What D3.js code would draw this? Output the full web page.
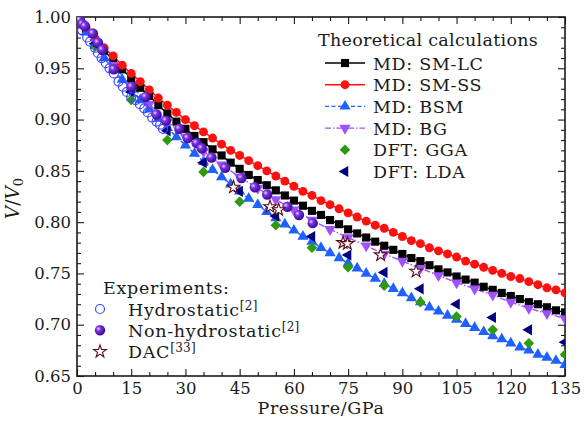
<!DOCTYPE html>
<html>
<head>
<meta charset="utf-8">
<script src="https://cdn.jsdelivr.net/npm/d3@7"></script>
<style>
body { margin: 0; background: #fff; }
svg text { font-family: "DejaVu Serif", serif; fill: #1a1a1a; }
</style>
</head>
<body>
<svg id="chart" width="584" height="421"></svg>
<script>
// pressure grid of the MD runs (GPa)
var mdPressure = [0, 2.5, 5, 7.5, 10, 12.5, 15, 17.5, 20, 22.5, 25, 27.5, 30, 32.5, 35, 37.5, 40, 42.5, 45, 47.5,
    50, 52.5, 55, 57.5, 60, 62.5, 65, 67.5, 70, 72.5, 75, 77.5, 80, 82.5, 85, 87.5, 90, 92.5, 95, 97.5,
    100, 102.5, 105, 107.5, 110, 112.5, 115, 117.5, 120, 122.5, 125, 127.5, 130, 132.5, 135];
var smLC = [1.000, 0.988, 0.977, 0.967, 0.958, 0.949, 0.940, 0.931, 0.923, 0.914, 0.906, 0.898, 0.891, 0.884, 0.878, 0.871, 0.865, 0.858, 0.852, 0.846,
    0.841, 0.836, 0.831, 0.826, 0.821, 0.816, 0.811, 0.807, 0.802, 0.798, 0.793, 0.789, 0.785, 0.781, 0.777, 0.773, 0.769, 0.765, 0.762, 0.758,
    0.754, 0.751, 0.747, 0.744, 0.741, 0.737, 0.734, 0.731, 0.728, 0.725, 0.722, 0.720, 0.717, 0.714, 0.712];
var smSS = [1.000, 0.989, 0.979, 0.970, 0.962, 0.953, 0.945, 0.937, 0.929, 0.921, 0.914, 0.907, 0.900, 0.894, 0.888, 0.882, 0.876, 0.870, 0.865, 0.860,
    0.855, 0.850, 0.845, 0.840, 0.835, 0.830, 0.826, 0.821, 0.817, 0.813, 0.809, 0.805, 0.801, 0.797, 0.794, 0.790, 0.786, 0.782, 0.779, 0.775,
    0.772, 0.769, 0.766, 0.762, 0.759, 0.756, 0.753, 0.750, 0.747, 0.745, 0.742, 0.739, 0.736, 0.734, 0.731];
var bsm = [1.000, 0.985, 0.972, 0.960, 0.949, 0.939, 0.929, 0.919, 0.910, 0.901, 0.892, 0.883, 0.875, 0.867, 0.859, 0.851, 0.844, 0.837, 0.830, 0.823,
    0.817, 0.810, 0.804, 0.798, 0.792, 0.786, 0.781, 0.775, 0.770, 0.765, 0.760, 0.755, 0.750, 0.745, 0.740, 0.735, 0.731, 0.726, 0.722, 0.717,
    0.713, 0.709, 0.705, 0.701, 0.697, 0.693, 0.689, 0.686, 0.682, 0.678, 0.675, 0.671, 0.668, 0.665, 0.661];
var bgPressure = [0, 5, 10, 15, 20, 25, 30, 35, 40, 45, 50, 55, 60, 65, 70, 75, 80, 85, 90, 95, 100, 105, 110, 115, 120, 125, 130, 135];
var bg = [1.000, 0.975, 0.953, 0.933, 0.915, 0.898, 0.883, 0.869, 0.856, 0.844, 0.833, 0.822, 0.812, 0.802,
    0.793, 0.785, 0.777, 0.769, 0.762, 0.755, 0.748, 0.741, 0.735, 0.729, 0.722, 0.716, 0.711, 0.706];
var dftPressure = [5, 15, 25, 35, 45, 55, 65, 75, 85, 95, 105, 115, 125, 135];
var gga = [0.971, 0.919, 0.880, 0.849, 0.820, 0.797, 0.775, 0.756, 0.738, 0.722, 0.708, 0.695, 0.682, 0.671];
var lda = [0.974, 0.927, 0.889, 0.858, 0.830, 0.806, 0.786, 0.768, 0.751, 0.735, 0.720, 0.707, 0.695, 0.683];
// experiments
var hydroP = [0.5, 1.4, 2.8, 3.6, 5.0, 5.8, 6.8, 8.0, 9.0, 10.2, 11.5, 12.7, 13.8, 15.0, 16.2, 17.4, 18.6, 19.6, 20.8, 22.0, 23.0, 23.8];
var hydroV = [0.995, 0.987, 0.980, 0.976, 0.970, 0.965, 0.960, 0.955, 0.950, 0.945, 0.937, 0.932, 0.927, 0.922, 0.919, 0.915, 0.911, 0.907, 0.902, 0.898, 0.895, 0.891];
var nonHydroP = [0.8, 1.5, 2.2, 4.4, 5.8, 7.0, 10.2, 15.1, 19.0, 22.0, 24.6, 28.3, 30.6, 33.1, 34.5, 37.2, 41.0, 45.5, 49.2, 52.6, 58.2, 61.4, 65.2];
var nonHydroV = [0.997, 0.993, 0.991, 0.984, 0.975, 0.968, 0.949, 0.932, 0.922, 0.905, 0.899, 0.891, 0.882, 0.877, 0.872, 0.863, 0.853, 0.843, 0.834, 0.827, 0.815, 0.807, 0.799];
var dacP = [43.3, 53.4, 55.8, 73.6, 74.8, 84.0, 93.8];
var dacV = [0.834, 0.815, 0.812, 0.780, 0.779, 0.768, 0.752];

var xTicks = [0, 15, 30, 45, 60, 75, 90, 105, 120, 135];
var yTicks = [0.65, 0.70, 0.75, 0.80, 0.85, 0.90, 0.95, 1.00];

var SERIF = "'DejaVu Serif', serif";

window.onload = () => {
    var margin = { top: 17, right: 19, bottom: 45, left: 77 },
        width = 584 - margin.left - margin.right,
        height = 421 - margin.top - margin.bottom;

    var x = d3.scaleLinear().domain([0, 135]).range([0, width]);
    var y = d3.scaleLinear().domain([0.65, 1.0]).range([height, 0]);

    var svg = d3.select("#chart")
        .append("g")
        .attr("font-family", SERIF)
        .attr("transform", "translate(" + margin.left + "," + margin.top + ")");

    var defs = svg.append("defs");
    defs.append("clipPath").attr("id", "plotclip")
        .append("rect").attr("width", width).attr("height", height);
    var grad = defs.append("radialGradient").attr("id", "sphere")
        .attr("cx", "35%").attr("cy", "35%").attr("r", "65%");
    grad.append("stop").attr("offset", "0%").attr("stop-color", "#e6d6ff");
    grad.append("stop").attr("offset", "35%").attr("stop-color", "#7a33dd");
    grad.append("stop").attr("offset", "100%").attr("stop-color", "#3d0a99");

    // minor ticks every 5 GPa / 0.01
    var xMinor = [], yMinor = [];
    for (var i = 0; i <= 135; i += 5) if (i % 15 != 0) xMinor.push(i);
    for (var j = 65; j <= 100; j++) if (j % 5 != 0) yMinor.push(j / 100);

    function tickAxis(axis, vals, size, fmt) {
        return axis.tickValues(vals).tickSize(size).tickSizeOuter(0).tickPadding(6).tickFormat(fmt);
    }
    var none = function () { return ""; };

    svg.append("g").attr("class", "ax").attr("transform", "translate(0," + height + ")")
        .call(tickAxis(d3.axisBottom(x), xTicks, -7, d3.format("d")));
    svg.append("g").attr("class", "ax").attr("transform", "translate(0," + height + ")")
        .call(tickAxis(d3.axisBottom(x), xMinor, -4, none));
    svg.append("g").attr("class", "ax")
        .call(tickAxis(d3.axisTop(x), xTicks, -7, none));
    svg.append("g").attr("class", "ax")
        .call(tickAxis(d3.axisTop(x), xMinor, -4, none));
    svg.append("g").attr("class", "ax")
        .call(tickAxis(d3.axisLeft(y), yTicks, -7, d3.format(".2f")));
    svg.append("g").attr("class", "ax")
        .call(tickAxis(d3.axisLeft(y), yMinor, -4, none));
    svg.append("g").attr("class", "ax").attr("transform", "translate(" + width + ",0)")
        .call(tickAxis(d3.axisRight(y), yTicks, -7, none));
    svg.append("g").attr("class", "ax").attr("transform", "translate(" + width + ",0)")
        .call(tickAxis(d3.axisRight(y), yMinor, -4, none));

    svg.selectAll(".ax").attr("font-family", SERIF).attr("font-size", 16.5);
    svg.selectAll(".ax .domain").remove();
    svg.selectAll(".ax line").attr("stroke", "#1a1a1a").attr("stroke-width", 1.1);
    svg.selectAll(".ax text").attr("fill", "#1a1a1a");

    svg.append("rect").attr("width", width).attr("height", height)
        .attr("fill", "none").attr("stroke", "#1a1a1a").attr("stroke-width", 1.6);

    // axis titles
    svg.append("text")
        .attr("x", width / 2).attr("y", height + 38)
        .style("text-anchor", "middle").style("font-size", "17.5px").style("letter-spacing", "0.6px")
        .text("Pressure/GPa");

    var yl = svg.append("text")
        .attr("transform", "translate(" + (-58) + "," + (height / 2 + 2) + ") rotate(-90)")
        .style("text-anchor", "middle").style("font-size", "18.5px");
    yl.append("tspan").style("font-style", "italic").text("V");
    yl.append("tspan").text("/");
    yl.append("tspan").style("font-style", "italic").text("V");
    yl.append("tspan").attr("dy", 4).style("font-size", "13px").text("0");

    var plot = svg.append("g").attr("clip-path", "url(#plotclip)");

    var line = d3.line().x(d => x(d[0])).y(d => y(d[1]));
    function pairs(px, py) { return px.map((p, k) => [p, py[k]]); }

    var series = [
        { name: "MD: SM-LC", p: mdPressure, v: smLC, color: "#000000", dash: null, shape: d3.symbolSquare, size: 66, rot: 0 },
        { name: "MD: SM-SS", p: mdPressure, v: smSS, color: "#ff1010", dash: null, shape: d3.symbolCircle, size: 62, rot: 0 },
        { name: "MD: BSM", p: mdPressure, v: bsm, color: "#2060ff", dash: "4,2.5", shape: d3.symbolTriangle, size: 54, rot: 0 },
        { name: "MD: BG", p: bgPressure, v: bg, color: "#a050ff", dash: "6,2,1.5,2", shape: d3.symbolTriangle, size: 56, rot: 180 },
        { name: "DFT: GGA", p: dftPressure, v: gga, color: "#2e9a10", dash: "none", shape: d3.symbolSquare, size: 56, rot: 45 },
        { name: "DFT: LDA", p: dftPressure, v: lda, color: "#00007a", dash: "none", shape: d3.symbolTriangle, size: 54, rot: -90 }
    ];

    series.forEach(function (s) {
        if (s.dash !== "none") {
            plot.append("path").datum(pairs(s.p, s.v))
                .attr("d", line).attr("fill", "none")
                .attr("stroke", s.color).attr("stroke-width", 1.4)
                .attr("stroke-dasharray", s.dash);
        }
    });
    series.forEach(function (s) {
        plot.append("g").selectAll("path")
            .data(pairs(s.p, s.v))
            .enter().append("path")
            .attr("d", d3.symbol().type(s.shape).size(s.size))
            .attr("transform", d => "translate(" + x(d[0]) + "," + y(d[1]) + ") rotate(" + s.rot + ")")
            .attr("fill", s.color);
    });

    // experiments on top
    plot.append("g").selectAll("circle").data(pairs(hydroP, hydroV)).enter().append("circle")
        .attr("cx", d => x(d[0])).attr("cy", d => y(d[1])).attr("r", 4.5)
        .attr("fill", "none").attr("stroke", "#3a48ff").attr("stroke-width", 1.2);
    plot.append("g").selectAll("circle").data(pairs(nonHydroP, nonHydroV)).enter().append("circle")
        .attr("cx", d => x(d[0])).attr("cy", d => y(d[1])).attr("r", 5.2)
        .attr("fill", "url(#sphere)");
    plot.append("g").selectAll("path").data(pairs(dacP, dacV)).enter().append("path")
        .attr("d", d3.symbol().type(d3.symbolStar).size(50))
        .attr("transform", d => "translate(" + x(d[0]) + "," + y(d[1]) + ")")
        .attr("fill", "#fff").attr("stroke", "#5a0a18").attr("stroke-width", 1.1);

    // legend: theoretical calculations
    var fs = "17.5px", ls = "0.7px";
    var lg = svg.append("g").attr("transform", "translate(" + (325 - margin.left) + ",0)");
    lg.append("text").attr("x", -7).attr("y", 29)
        .style("font-size", fs).style("letter-spacing", "0.3px")
        .text("Theoretical calculations");
    series.forEach(function (s, k) {
        var yy = 46 + k * 21.7;
        if (s.dash !== "none") {
            lg.append("line").attr("x1", 0).attr("x2", 40).attr("y1", yy).attr("y2", yy)
                .attr("stroke", s.color).attr("stroke-width", 1.4).attr("stroke-dasharray", s.dash);
        }
        lg.append("path").attr("d", d3.symbol().type(s.shape).size(s.size))
            .attr("transform", "translate(20," + yy + ") rotate(" + s.rot + ")")
            .attr("fill", s.color);
        lg.append("text").attr("x", 48).attr("y", yy + 6.5)
            .style("font-size", fs).style("letter-spacing", ls)
            .text(s.name);
    });

    // legend: experiments
    var le = svg.append("g").attr("transform", "translate(" + (100 - margin.left) + ",0)");
    le.append("text").attr("x", 3).attr("y", 277)
        .style("font-size", fs).style("letter-spacing", ls)
        .text("Experiments:");
    var exps = [["Hydrostatic", "[2]"], ["Non-hydrostatic", "[2]"], ["DAC", "[33]"]];
    exps.forEach(function (e, k) {
        var yy = 292 + k * 21.3;
        var t = le.append("text").attr("x", 28).attr("y", yy + 6.5)
            .style("font-size", fs).style("letter-spacing", ls);
        t.append("tspan").text(e[0]);
        t.append("tspan").attr("dy", -6).style("font-size", "12px").style("letter-spacing", "0.3px").text(e[1]);
    });
    le.append("circle").attr("cx", 0).attr("cy", 292).attr("r", 4.5)
        .attr("fill", "none").attr("stroke", "#3a48ff").attr("stroke-width", 1.2);
    le.append("circle").attr("cx", 0).attr("cy", 313.3).attr("r", 5.2).attr("fill", "url(#sphere)");
    le.append("path").attr("d", d3.symbol().type(d3.symbolStar).size(50))
        .attr("transform", "translate(0,334.6)")
        .attr("fill", "#fff").attr("stroke", "#5a0a18").attr("stroke-width", 1.1);
};
</script>
</body>
</html>
